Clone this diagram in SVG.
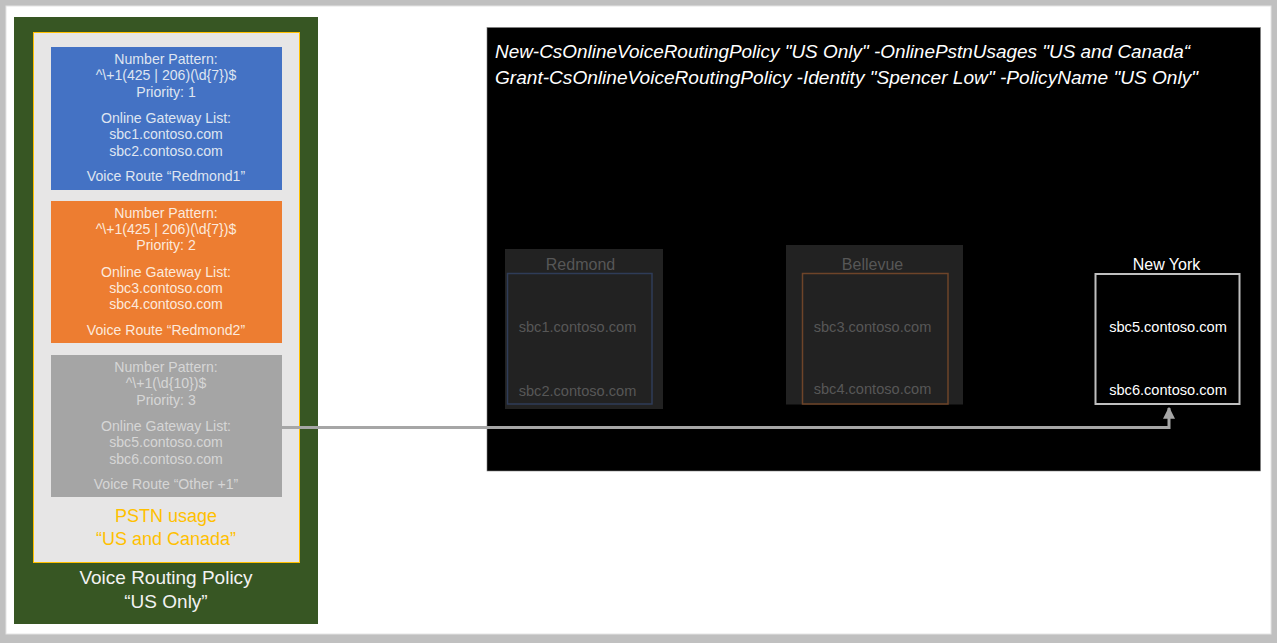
<svg xmlns="http://www.w3.org/2000/svg" width="1277" height="643" viewBox="0 0 1277 643">
<defs>
<style>
.t{font-family:"Liberation Sans",Arial,sans-serif;text-anchor:middle}
.s14{font-size:14.1px}
.s15{font-size:14.6px}
.blue{fill:#dfe5f1}
.orng{fill:#fce9dc}
.gry{fill:#d6d6d6}
.dim{fill:#575757}
.wht{fill:#ffffff}
.cmd{font-family:"Liberation Sans",Arial,sans-serif;font-style:italic;font-size:18px;fill:#ffffff}
</style>
<marker id="arr" viewBox="0 0 10 10" refX="9" refY="5" markerWidth="4" markerHeight="4" orient="auto" markerUnits="strokeWidth">
<path d="M0,0 L10,5 L0,10 z" fill="#a6a6a6"/>
</marker>
</defs>
<rect x="0" y="0" width="1277" height="643" fill="#c0c0c0"/>
<rect x="6" y="6" width="1265" height="628" fill="#ffffff" stroke="#e4e4e4" stroke-width="1"/>

<g id="policy">
<rect x="14" y="17" width="304" height="607" fill="#375623"/>
<text class="t" x="166" y="584" font-size="19" fill="#f2f2f2">Voice Routing Policy</text>
<text class="t" x="166" y="608" font-size="19" fill="#f2f2f2">“US Only”</text>
</g>

<g id="pstn-usage">
<rect x="33.5" y="32.5" width="266" height="530" fill="#e7e6e6" stroke="#ffc000" stroke-width="1"/>
<text class="t" x="166" y="522" font-size="18" fill="#ffc000">PSTN usage</text>
<text class="t" x="166" y="545" font-size="18" fill="#ffc000">“US and Canada”</text>
</g>

<g id="route-redmond1">
<rect x="51" y="47" width="231" height="143" fill="#4472c4"/>
<text class="t s14 blue" x="166" y="64">Number Pattern:</text>
<text class="t s14 blue" x="166" y="80">^\+1(425 | 206)(\d{7})$</text>
<text class="t s14 blue" x="166" y="96.5">Priority: 1</text>
<text class="t s14 blue" x="166" y="123">Online Gateway List:</text>
<text class="t s14 blue" x="166" y="139">sbc1.contoso.com</text>
<text class="t s14 blue" x="166" y="155.5">sbc2.contoso.com</text>
<text class="t s14 blue" x="166" y="181">Voice Route “Redmond1”</text>
</g>

<g id="route-redmond2">
<rect x="51" y="201" width="231" height="142" fill="#ed7d31"/>
<text class="t s14 orng" x="166" y="217.5">Number Pattern:</text>
<text class="t s14 orng" x="166" y="233.5">^\+1(425 | 206)(\d{7})$</text>
<text class="t s14 orng" x="166" y="250">Priority: 2</text>
<text class="t s14 orng" x="166" y="276.5">Online Gateway List:</text>
<text class="t s14 orng" x="166" y="293">sbc3.contoso.com</text>
<text class="t s14 orng" x="166" y="309">sbc4.contoso.com</text>
<text class="t s14 orng" x="166" y="335">Voice Route “Redmond2”</text>
</g>

<g id="route-other">
<rect x="51" y="355" width="231" height="142" fill="#a5a5a5"/>
<text class="t s14 gry" x="166" y="372">Number Pattern:</text>
<text class="t s14 gry" x="166" y="388">^\+1(\d{10})$</text>
<text class="t s14 gry" x="166" y="404.5">Priority: 3</text>
<text class="t s14 gry" x="166" y="431">Online Gateway List:</text>
<text class="t s14 gry" x="166" y="447">sbc5.contoso.com</text>
<text class="t s14 gry" x="166" y="463.5">sbc6.contoso.com</text>
<text class="t s14 gry" x="166" y="489">Voice Route “Other +1”</text>
</g>

<g id="commands">
<rect x="487" y="27.5" width="773.5" height="443.5" fill="#000000" stroke="#7f7f7f" stroke-width="0.6"/>
<text class="cmd" x="495" y="58" textLength="695" lengthAdjust="spacingAndGlyphs">New-CsOnlineVoiceRoutingPolicy "US Only" -OnlinePstnUsages "US and Canada“</text>
<text class="cmd" x="495" y="84" textLength="703" lengthAdjust="spacingAndGlyphs">Grant-CsOnlineVoiceRoutingPolicy -Identity "Spencer Low" -PolicyName "US Only"</text>
</g>

<g id="site-redmond">
<rect x="505" y="249" width="158" height="160" fill="#222222"/>
<rect x="507.5" y="273.5" width="144.5" height="130.5" fill="none" stroke="#2f3c58" stroke-width="1.5"/>
<text class="t dim" x="580.5" y="270" font-size="16">Redmond</text>
<text class="t s15 dim" x="577.5" y="332">sbc1.contoso.com</text>
<text class="t s15 dim" x="577.5" y="395.5">sbc2.contoso.com</text>
</g>

<g id="site-bellevue">
<rect x="786" y="245" width="177" height="159.5" fill="#222222"/>
<rect x="802.5" y="273.5" width="145.5" height="130.5" fill="none" stroke="#6e4429" stroke-width="1.5"/>
<text class="t dim" x="872.5" y="270" font-size="16">Bellevue</text>
<text class="t s15 dim" x="872.5" y="332">sbc3.contoso.com</text>
<text class="t s15 dim" x="872.5" y="394">sbc4.contoso.com</text>
</g>

<g id="site-newyork">
<rect x="1095.5" y="274" width="144" height="130" fill="none" stroke="#bfbfbf" stroke-width="2"/>
<text class="t wht" x="1166.5" y="270" font-size="16">New York</text>
<text class="t s15 wht" x="1168" y="331.5">sbc5.contoso.com</text>
<text class="t s15 wht" x="1168" y="395">sbc6.contoso.com</text>
</g>

<g id="connectors">
<polyline points="282,427.5 1169,427.5 1169,408" fill="none" stroke="#a6a6a6" stroke-width="3" marker-end="url(#arr)"/>
</g>
</svg>
